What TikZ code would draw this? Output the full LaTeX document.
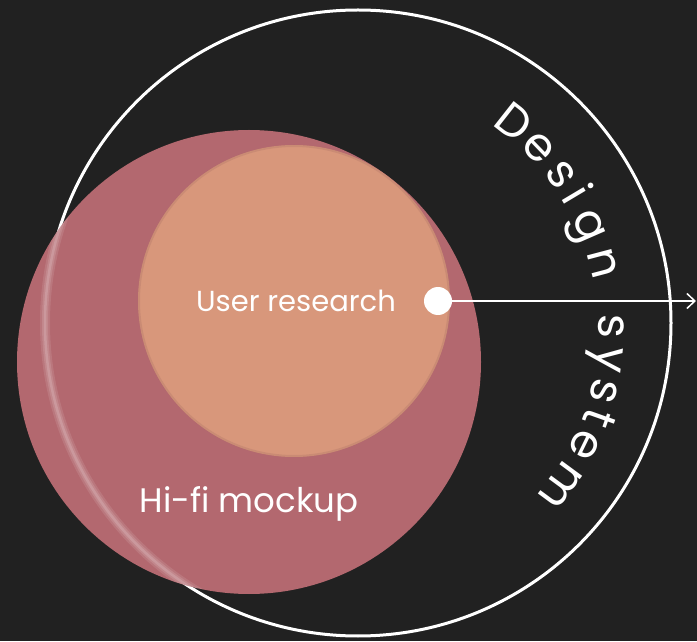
\documentclass[tikz,border=0pt]{standalone}
\usepackage{fontspec}
\setmainfont{Poppins}
\usetikzlibrary{arrows.meta}
\definecolor{bgdark}{HTML}{212121}
\definecolor{mockpink}{HTML}{B3686F}
\definecolor{respeach}{HTML}{D8977B}

\begin{document}
\begin{tikzpicture}[x=1pt,y=1pt,
  blob/.style={circle,inner sep=0pt,outer sep=0pt},
  label/.style={text=white,inner sep=0pt},
  dsletter/.style={text=white,font=\fontsize{46}{46}\selectfont,anchor=base,inner sep=0pt}]
\fill[bgdark] (0,0) rectangle (697,641);
\useasboundingbox (0,0) rectangle (697,641);
% outer ring
\node(DS)[blob,draw=white,line width=3pt,minimum size=626pt] at (358,318){};
% hi-fi disc, ring shows through it
\node(HF)[blob,fill=mockpink,minimum size=464pt] at (249,279){};
\begin{scope}
\clip (HF.center) circle (232);
\draw[white,opacity=0.1,line width=10pt] (DS.center) circle (313);
\draw[white,opacity=0.12,line width=6pt] (DS.center) circle (313);
\draw[white,opacity=0.15,line width=2.5pt] (DS.center) circle (313);
\end{scope}
% user research disc
\node(UR)[blob,fill=respeach,minimum size=312pt] at (294,340){};
\draw[mockpink!70!black,opacity=0.15,line width=2pt] (UR.center) circle (155);
\node(URtxt)[label,font=\fontsize{29}{29}\selectfont] at (296,340){User research};
\node(HFtxt)[label,font=\fontsize{34}{34}\selectfont] at (249,137){Hi-fi mockup};
% pointer
\node(dot)[blob,fill=white,minimum size=28pt] at (438,340){};
\coordinate(tip) at (696,340);
\draw[white,line width=1.5pt,-{Straight Barb[length=8pt,width=15pt]}] (dot.east) -- (tip);
% curved title
\begin{scope}[shift={(350,311)}]
\foreach \ch/\ang in {D/51.8,e/44,s/36.4,i/30.8,g/23.6,n/14.8,s/0.7,y/-6.6,s/-13.6,t/-19.5,e/-26.1,m/-36.4}
  \node[dsletter,rotate=\ang-90] at (\ang:249) {\ch};
\end{scope}
\end{tikzpicture}
\end{document}
